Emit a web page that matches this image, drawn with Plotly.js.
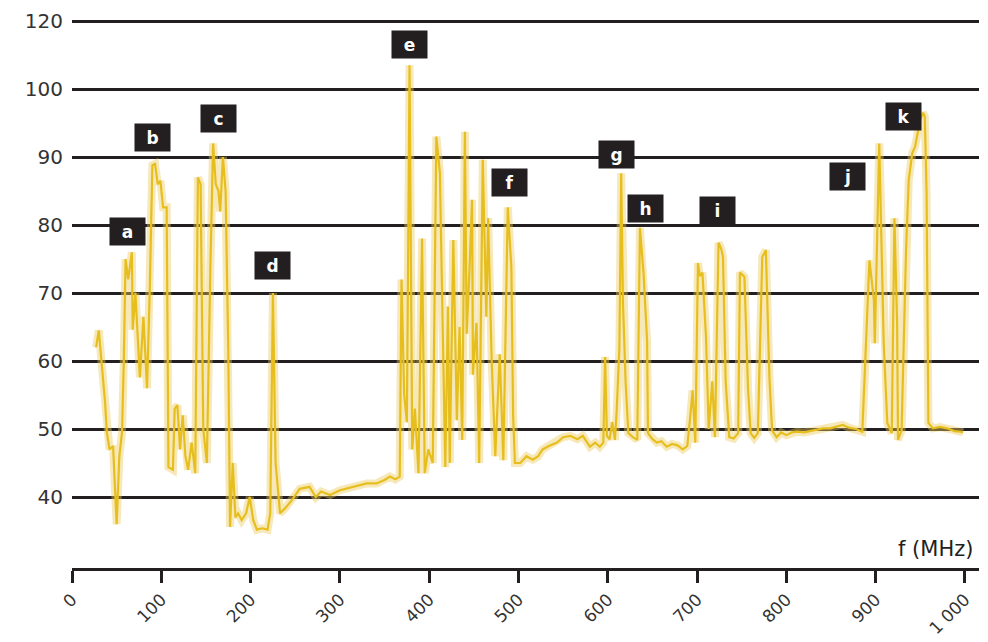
<!DOCTYPE html>
<html>
<head>
<meta charset="utf-8">
<script src="https://cdn.plot.ly/plotly-3.0.1.min.js"></script>
<style>
  html, body { margin: 0; padding: 0; background: #ffffff; }
  #chart { width: 988px; height: 642px; }
</style>
</head>
<body>
<div id="chart"></div>
<script>
// Spectrum sweep: frequency (MHz) and received level (dB)
const freqMHz = [
  27, 30, 33, 37, 39, 42, 46, 50, 53, 56, 58, 60, 63, 67, 68, 71, 76, 80, 84, 87,
  90, 93, 96, 99, 102, 106, 108, 113, 115, 118, 121, 124, 127, 130, 134, 138, 141, 144, 147, 151,
  155, 158, 161, 164, 166, 169, 172, 175, 177, 180, 183, 186, 190, 195, 199, 203, 207, 213, 219, 222,
  225, 228, 233, 239, 246, 255, 266, 273, 279, 289, 300, 315, 330, 341, 350, 356, 362, 367, 369, 372,
  375, 378, 381, 384, 388, 392, 395, 399, 404, 408, 412, 414, 418, 421, 423, 427, 431, 434, 437, 440,
  442, 445, 448, 449, 453, 456, 460, 464, 466, 470, 474, 479, 483, 488, 492, 494, 496, 502, 509, 516,
  522, 527, 534, 543, 550, 558, 566, 572, 580, 586, 591, 595, 597, 599, 602, 605, 608, 610, 613, 615,
  617, 620, 623, 628, 633, 636, 640, 644, 645, 650, 655, 660, 666, 672, 678, 684, 689, 692, 695, 698,
  701, 703, 706, 710, 713, 717, 720, 724, 727, 729, 732, 736, 741, 746, 748, 753, 757, 760, 764, 768,
  773, 777, 781, 784, 789, 794, 800, 806, 812, 820, 830, 841, 849, 856, 863, 870, 878, 885, 889, 893,
  898, 899, 904, 907, 909, 913, 918, 921, 924, 925, 929, 934, 937, 941, 944, 947, 950, 953, 955, 957,
  959, 964, 972, 980, 988, 995, 998
];
const levelDB = [
  62, 64.5, 60, 54, 49.5, 47, 47.5, 36, 46, 49.5, 60, 75, 72, 76, 64.6, 70, 57.6, 66.5, 56, 70,
  88.8, 89, 86, 86.5, 82.6, 82.6, 44.4, 44, 53, 53.5, 47, 52, 46, 44, 48, 43.5, 87, 86, 50, 45,
  74, 92, 86, 85, 82, 90, 85, 61.6, 35.6, 45, 37, 37.6, 36.6, 37.6, 40, 36.6, 35.2, 35.4, 35.2, 37.6,
  70, 45, 37.6, 38.4, 39.5, 41.2, 41.5, 40, 40.8, 40.3, 41, 41.5, 42, 42, 42.5, 43, 42.6, 43, 72, 55,
  51, 103.5, 47, 53, 43.5, 78, 43.5, 47, 45, 93, 87.6, 73, 44.4, 68, 45, 77.8, 51.3, 65, 48.4, 93.7,
  64, 73, 83.7, 58, 65.6, 45, 89.6, 66.5, 81, 60, 46, 61, 45.4, 82.6, 73.8, 52, 45, 45, 46, 45.5,
  46, 47, 47.5, 48, 48.8, 49, 48.5, 49, 47.4, 48, 47.4, 48, 60.6, 49, 48.5, 51, 48.4, 52.8, 62, 87.6,
  68.5, 56.8, 49.4, 48.8, 48.4, 79.6, 73, 63, 49.4, 48.5, 48, 48.2, 47.4, 47.8, 47.6, 47, 47.5, 51.3, 55.7, 48,
  74.4, 72.5, 73, 63.5, 50, 57, 48.8, 77.4, 76.5, 75.3, 57, 48.8, 48.6, 49.4, 73, 72.4, 56, 49.4, 48.7, 49.4,
  75.3, 76.3, 57.6, 49.8, 48.8, 49.5, 49.1, 49.5, 49.6, 49.5, 49.8, 50.1, 50.1, 50.3, 50.6, 50.2, 50, 49.6, 61.6, 74.8,
  69, 62.6, 92, 75.3, 62.6, 50.9, 49.4, 81, 65.6, 48.4, 49.8, 76.3, 86.6, 90.6, 91.5, 93.5, 95.5, 96.5, 96, 84.7,
  50.9, 50.1, 50.3, 50.1, 49.7, 49.6, 49.5
];

// Signal markers a–k with their anchor (MHz, dB)
const markerText = ["a", "b", "c", "d", "e", "f", "g", "h", "i", "j", "k"];
const markerMHz  = [62.7, 89.6, 163.5, 225, 377.4, 489.4, 610.3, 641.7, 723.4, 867.9, 930.6];
const markerDB   = [79.0, 92.8, 95.7, 74.0, 106.6, 86.2, 90.3, 82.5, 82.1, 87.1, 95.9];

// Axis ticks
const xTickVals = [0, 100, 200, 300, 400, 500, 600, 700, 800, 900, 1000];
const xTickText = ["0", "100", "200", "300", "400", "500", "600", "700", "800", "900", "1 000"];
const yTickVals = [40, 50, 60, 70, 80, 90, 100, 110];
const yTickText = ["40", "50", "60", "70", "80", "90", "100", "120"];

const INK = "#231f20";
const GOLD = "#e6bf1e";

const traces = [
  {
    x: freqMHz, y: levelDB, type: "scatter", mode: "lines",
    line: { color: "rgba(236,200,90,0.42)", width: 8 },
    hoverinfo: "skip", showlegend: false
  },
  {
    x: freqMHz, y: levelDB, type: "scatter", mode: "lines",
    line: { color: GOLD, width: 2.2 },
    showlegend: false
  }
];

const annotations = markerText.map((t, i) => ({
  x: markerMHz[i], y: markerDB[i], xref: "x", yref: "y",
  text: "<b>" + t + "</b>", showarrow: false,
  font: { family: "DejaVu Sans", size: 17, color: "#ffffff" },
  bgcolor: INK, width: 35, height: 27, borderpad: 0,
  xanchor: "center", yanchor: "middle"
}));

annotations.push({
  xref: "paper", yref: "paper", x: 0.996, y: 0.034,
  xanchor: "right", yanchor: "middle", showarrow: false,
  text: "f (MHz)",
  font: { family: "DejaVu Sans", size: 21, color: INK }
});

const layout = {
  width: 988, height: 642,
  margin: { l: 72, r: 9, t: 16, b: 74 },
  paper_bgcolor: "#ffffff", plot_bgcolor: "#ffffff",
  xaxis: {
    range: [0, 1015.7], showgrid: false, zeroline: false,
    showline: true, linecolor: INK, linewidth: 3,
    ticks: "outside", ticklen: 12, tickwidth: 3, tickcolor: INK,
    tickvals: xTickVals, ticktext: xTickText, tickangle: -45,
    tickfont: { family: "DejaVu Sans", size: 17, color: "#333333" }
  },
  yaxis: {
    range: [29.56, 110.74], showgrid: true, gridcolor: INK, gridwidth: 3,
    zeroline: false, showline: false, ticks: "",
    tickvals: yTickVals, ticktext: yTickText, ticklabelstandoff: 8,
    tickfont: { family: "DejaVu Sans", size: 20, color: "#333333" }
  },
  annotations: annotations
};

Plotly.newPlot("chart", traces, layout, { staticPlot: true, displayModeBar: false });
</script>
</body>
</html>
